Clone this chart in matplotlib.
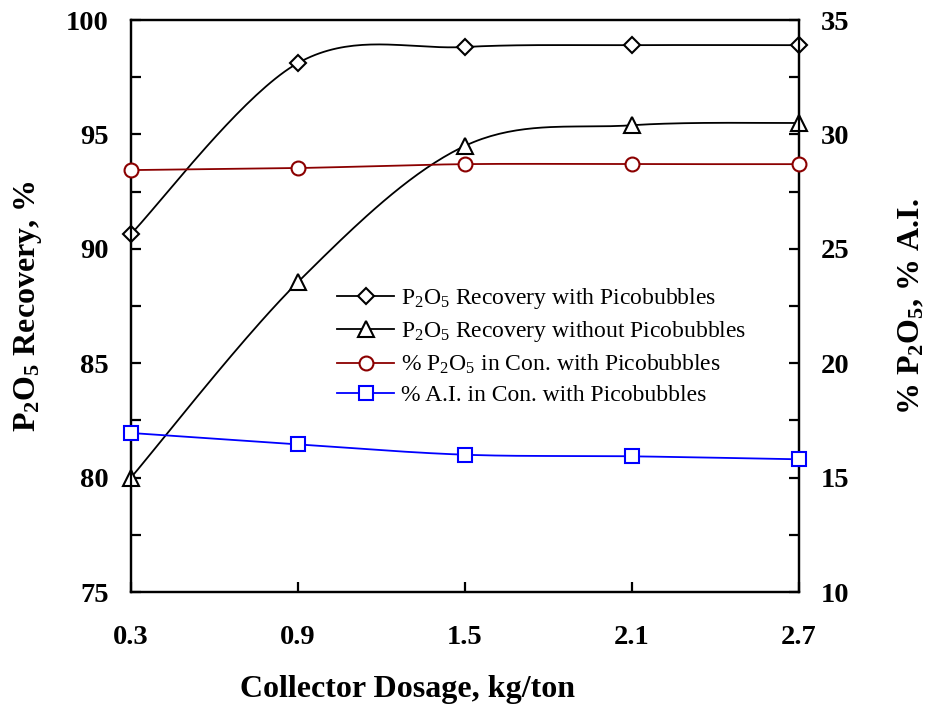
import numpy as np
import matplotlib
matplotlib.use("Agg")
import matplotlib.pyplot as plt

plt.rcParams['font.family'] = ['Liberation Serif', 'DejaVu Serif']
plt.rcParams['mathtext.fontset'] = 'custom'
plt.rcParams['mathtext.rm'] = 'Liberation Serif'
plt.rcParams['mathtext.it'] = 'Liberation Serif:italic'
plt.rcParams['mathtext.bf'] = 'Liberation Serif:bold'

# ---- data ----
dosage = [0.3, 0.9, 1.5, 2.1, 2.7]
rec_with = [90.65, 98.12, 98.82, 98.9, 98.9]
rec_without = [80.0, 88.55, 94.5, 95.4, 95.5]
p2o5_con = [28.44, 28.53, 28.7, 28.7, 28.7]
ai_con = [16.95, 16.45, 16.0, 15.93, 15.8]
xticks = [0.3, 0.9, 1.5, 2.1, 2.7]
left_ticks = [75, 80, 85, 90, 95, 100]
right_ticks = [10, 15, 20, 25, 30, 35]


def smooth(x, y, n=40):
    """Excel-style smoothed line (Catmull-Rom Bezier through points)."""
    P = np.column_stack([x, y]).astype(float)
    m = len(P)
    out = []
    for i in range(m - 1):
        p0 = P[i - 1] if i > 0 else P[i]
        p1, p2 = P[i], P[i + 1]
        p3 = P[i + 2] if i + 2 < m else P[i + 1]
        b1 = p1 + (p2 - p0) / 6.0
        b2 = p2 - (p3 - p1) / 6.0
        t = np.linspace(0, 1, n)[:, None]
        seg = ((1 - t) ** 3) * p1 + 3 * ((1 - t) ** 2) * t * b1 + 3 * (1 - t) * t ** 2 * b2 + t ** 3 * p2
        out.append(seg if i == 0 else seg[1:])
    s = np.vstack(out)
    return s[:, 0], s[:, 1]


fig = plt.figure(figsize=(9.28, 7.10), dpi=100)
ax = fig.add_axes([131 / 928, 1 - 592 / 710, 668 / 928, 572 / 710])
ax2 = ax.twinx()

lw = 1.3

def plot_series(a, x, y, color, marker, label, msize):
    sx, sy = smooth(x, y)
    a.plot(sx, sy, color=color, lw=lw, zorder=2)
    a.plot(x, y, linestyle='none', marker=marker, markersize=msize,
           markerfacecolor='white', markeredgecolor=color, markeredgewidth=1.5, zorder=3, clip_on=False)
    return plt.Line2D([], [], color=color, lw=lw, marker=marker, markersize=msize,
                      markerfacecolor='white', markeredgecolor=color, markeredgewidth=1.5, label=label)

h1 = plot_series(ax, dosage, rec_with, 'black', 'D', r'P$_2$O$_5$ Recovery with Picobubbles', 8.5)
h2 = plot_series(ax, dosage, rec_without, 'black', '^', r'P$_2$O$_5$ Recovery without Picobubbles', 11)
h3 = plot_series(ax2, dosage, p2o5_con, '#8B0000', 'o', r'% P$_2$O$_5$ in Con. with Picobubbles', 10)
h4 = plot_series(ax2, dosage, ai_con, '#0000FF', 's', r'% A.I. in Con. with Picobubbles', 9.5)

ax.set_xlim(0.3, 2.7)
ax.set_ylim(75, 100)
ax2.set_ylim(10, 35)
ax.set_xticks(xticks)
ax.set_xticklabels([f"{v:.1f}" for v in xticks])
ax.set_yticks(left_ticks)
ax2.set_yticks(right_ticks)
ax.set_yticks(np.arange(75, 100.1, 2.5), minor=True)
ax2.set_yticks(np.arange(10, 35.1, 2.5), minor=True)

for a in (ax, ax2):
    for sp in a.spines.values():
        sp.set_linewidth(1.6)
    a.tick_params(which='both', direction='in', length=7, width=1.6)
    a.tick_params(axis='both', labelsize=20.5)
    for lab in a.get_xticklabels() + a.get_yticklabels():
        lab.set_fontweight('bold')
ax.tick_params(axis='y', pad=16)
ax2.tick_params(axis='y', pad=16)
ax.tick_params(axis='x', pad=24)

fig.text(28 / 928, 1 - 306 / 710, r'P$_\mathbf{2}$O$_\mathbf{5}$ Recovery, %', fontsize=23,
         fontweight='bold', rotation=90, ha='center', va='center')
fig.text(912 / 928, 1 - 306 / 710, r'% P$_\mathbf{2}$O$_\mathbf{5}$, % A.I.', fontsize=23,
         fontweight='bold', rotation=90, ha='center', va='center')
fig.text(408 / 928, 1 - 690 / 710, 'Collector Dosage, kg/ton', fontsize=23,
         fontweight='bold', ha='center', va='center')

ax2.legend(handles=[h1, h2, h3, h4], loc='upper left', bbox_to_anchor=(0.309, 0.535),
           frameon=False, fontsize=17, handlelength=2.4, handletextpad=0.3,
           labelspacing=0.36, borderpad=0, borderaxespad=0)

fig.savefig('out.png', dpi=100)
